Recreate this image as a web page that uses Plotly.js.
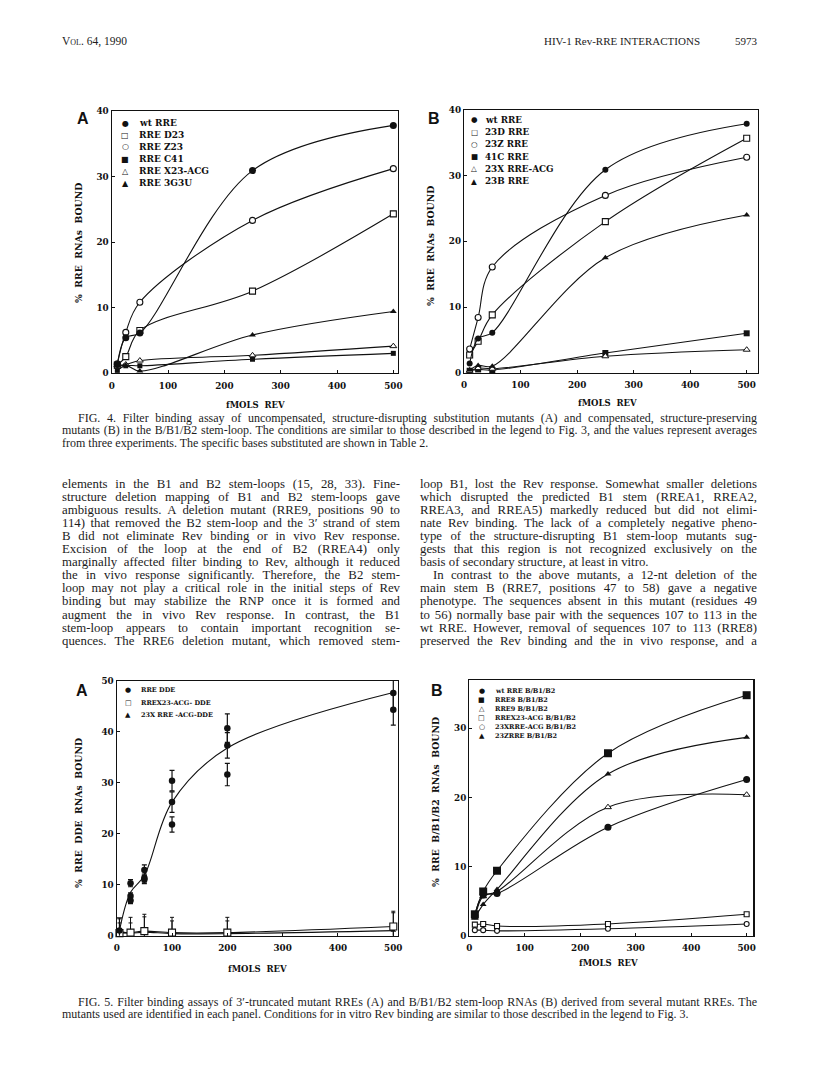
<!DOCTYPE html>
<html>
<head>
<meta charset="utf-8">
<script src="https://cdn.plot.ly/plotly-3.0.1.min.js"></script>
<style>
body{margin:0;background:#fff}
#page{position:relative;width:816px;height:1077px;overflow:hidden;background:#fff}
#chart{position:absolute;left:0;top:0;width:816px;height:1077px}
.t{position:absolute;font-family:'Liberation Serif',serif;color:#1c1c1c;white-space:nowrap;line-height:13px;height:13px;transform-origin:0 50%}
.j{text-align:justify;text-align-last:justify}
</style>
</head>
<body>
<div id="page"><div id="chart"></div></div>
<script>
// ---------------- DATA ----------------
// Fig. 4 (both panels share the Rev doses)
const revDose4 = [10, 25, 50, 250, 500];
// Fig. 4A
const wtRRE_A    = [1.3, 5.4, 6.1, 30.9, 37.8];
const rreD23_A   = [1.2, 2.5, 6.5, 12.5, 24.3];
const rreZ23_A   = [1.4, 6.2, 10.8, 23.3, 31.2];
const rreC41_A   = [0.4, 1.1, 1.1, 2.1, 3.0];
const rreX23acg_A= [1.2, 1.3, 1.9, 2.7, 4.1];
const rre3G3U_A  = [0.9, 1.2, 0.3, 5.8, 9.4];
const legend4A = ["wt RRE", "RRE D23", "RRE Z23", "RRE C41", "RRE X23-ACG", "RRE 3G3U"];
// Fig. 4B
const wtRRE_B    = [1.4, 5.2, 6.1, 30.9, 37.9];
const rre23D_B   = [2.7, 4.8, 8.8, 23.0, 35.7];
const rre23Z_B   = [3.6, 8.4, 16.1, 27.0, 32.8];
const rre41C_B   = [0.3, 0.5, 0.4, 3.0, 6.0];
const rre23Xacg_B= [0.3, 0.7, 0.6, 2.5, 3.5];
const rre23B_B   = [0.4, 1.1, 1.0, 17.5, 24.0];
const legend4B = ["wt RRE", "23D RRE", "23Z RRE", "41C RRE", "23X RRE-ACG", "23B RRE"];

// Fig. 5A (replicate points with error bars + fitted curve)
const ddeDose   = [5, 25, 25, 25, 50, 50, 50, 100, 100, 100, 200, 200, 200, 500, 500];
const ddeBound  = [1.0, 10.3, 7.8, 6.9, 12.9, 11.3, 11.0, 30.4, 26.2, 21.8, 40.7, 37.3, 31.6, 47.6, 44.3];
const ddeErr    = [2.5, 0.7, 0.6, 0.6, 1.0, 0.8, 0.8, 2.0, 2.0, 1.5, 2.8, 2.5, 2.2, 3.0, 3.0];
const ddeFitDose = [5, 25, 50, 100, 200, 500];
const ddeFit     = [1.0, 8.5, 11.8, 26.2, 36.8, 47.7];
const mutDose5A  = [5, 25, 50, 100, 200, 500];
const x23acgDDE  = [0.5, 0.6, 0.9, 0.6, 0.6, 1.8];
const x23acgErr  = [2.0, 3.0, 3.3, 3.0, 3.0, 3.0];
const x23rreDDE  = [0.8, 0.5, 0.7, 0.4, 0.4, 1.0];
const x23rreErr  = [2.5, 2.0, 3.0, 2.5, 2.5, 3.5];
const legend5A = ["RRE DDE", "RREX23-ACG- DDE", "23X RRE -ACG-DDE"];

// Fig. 5B
const revDose5B = [10, 25, 50, 250, 500];
const wtB1B2      = [2.9, 5.9, 6.1, 15.7, 22.6];
const rre8B1B2    = [3.1, 6.4, 9.4, 26.4, 34.8];
const rre9B1B2    = [2.6, 5.7, 6.4, 18.6, 20.4];
const x23acgB1B2  = [1.6, 1.7, 1.4, 1.7, 3.1];
const x23rreB1B2  = [0.8, 0.8, 0.7, 1.0, 1.7];
const z23rreB1B2  = [2.6, 4.5, 6.7, 23.4, 28.7];
const legend5B = ["wt RRE B/B1/B2", "RRE8 B/B1/B2", "RRE9 B/B1/B2", "RREX23-ACG B/B1/B2", "23XRRE-ACG B/B1/B2", "23ZRRE B/B1/B2"];

const xTicks = [0, 100, 200, 300, 400, 500];
const yTicks4 = [0, 10, 20, 30, 40];
const yTicks5A = [0, 10, 20, 30, 40, 50];
const yTicks5B = [0, 10, 20, 30];

// ---------------- PAGE TEXT ----------------
const headerTitle = "HIV-1 Rev-RRE INTERACTIONS";
const headerPage = "5973";
const caption4 = [
 "FIG. 4. Filter binding assay of uncompensated, structure-disrupting substitution mutants (A) and compensated, structure-preserving",
 "mutants (B) in the B/B1/B2 stem-loop. The conditions are similar to those described in the legend to Fig. 3, and the values represent averages",
 "from three experiments. The specific bases substituted are shown in Table 2."];
const bodyLeft = [
 "elements in the B1 and B2 stem-loops (15, 28, 33). Fine-",
 "structure deletion mapping of B1 and B2 stem-loops gave",
 "ambiguous results. A deletion mutant (RRE9, positions 90 to",
 "114) that removed the B2 stem-loop and the 3\u2032 strand of stem",
 "B did not eliminate Rev binding or in vivo Rev response.",
 "Excision of the loop at the end of B2 (RREA4) only",
 "marginally affected filter binding to Rev, although it reduced",
 "the in vivo response significantly. Therefore, the B2 stem-",
 "loop may not play a critical role in the initial steps of Rev",
 "binding but may stabilize the RNP once it is formed and",
 "augment the in vivo Rev response. In contrast, the B1",
 "stem-loop appears to contain important recognition se-",
 "quences. The RRE6 deletion mutant, which removed stem-"];
const bodyRight = [
 "loop B1, lost the Rev response. Somewhat smaller deletions",
 "which disrupted the predicted B1 stem (RREA1, RREA2,",
 "RREA3, and RREA5) markedly reduced but did not elimi-",
 "nate Rev binding. The lack of a completely negative pheno-",
 "type of the structure-disrupting B1 stem-loop mutants sug-",
 "gests that this region is not recognized exclusively on the",
 "basis of secondary structure, at least in vitro.",
 "In contrast to the above mutants, a 12-nt deletion of the",
 "main stem B (RRE7, positions 47 to 58) gave a negative",
 "phenotype. The sequences absent in this mutant (residues 49",
 "to 56) normally base pair with the sequences 107 to 113 in the",
 "wt RRE. However, removal of sequences 107 to 113 (RRE8)",
 "preserved the Rev binding and the in vivo response, and a"];
const caption5 = [
 "FIG. 5. Filter binding assays of 3\u2032-truncated mutant RREs (A) and B/B1/B2 stem-loop RNAs (B) derived from several mutant RREs. The",
 "mutants used are identified in each panel. Conditions for in vitro Rev binding are similar to those described in the legend to Fig. 3."];

// ---------------- BUILD TEXT ----------------
const page = document.getElementById('page');
function addLine(txt, left, cy, width, size, just, extra) {
  const d = document.createElement('div');
  d.className = 't';
  d.style.left = left + 'px';
  d.style.top = (cy - 6.5) + 'px';
  d.style.fontSize = size + 'px';
  if (extra) Object.assign(d.style, extra);
  d.textContent = txt;
  page.appendChild(d);
  if (width) {
    d.style.width = 'auto';
    const nat = d.getBoundingClientRect().width;
    if (nat > width) {
      d.style.transform = 'scaleX(' + (width / nat).toFixed(4) + ')';
    } else {
      d.style.width = width + 'px';
      if (just) d.classList.add('j');
    }
  }
  return d;
}
// header
const hl = addLine('', 62, 41, null, 11.5, false);
hl.innerHTML = '<span style="font-variant:small-caps">Vol.</span> 64, 1990';
addLine(headerTitle, 500, 41, null, 11, false, {width: '200px', textAlign: 'right'});
addLine(headerPage, 717, 41, null, 11, false, {width: '40px', textAlign: 'right'});
// fig 4 caption
caption4.forEach((s, i) => {
  const indent = i === 0 ? 78 : 62;
  addLine(s, indent, 418 + i * 12.6, i < 2 ? 757 - indent : null, 12, i < 2);
});
// body columns
const lh = 13.1;
bodyLeft.forEach((s, i) => {
  addLine(s, 62, 484 + i * lh, 338, 12.8, true);
});
bodyRight.forEach((s, i) => {
  const indent = (i === 7) ? 433 : 420;
  const just = (i !== 6);
  addLine(s, indent, 484 + i * lh, just ? 757 - indent : null, 12.8, just);
});
// fig 5 caption
caption5.forEach((s, i) => {
  const indent = i === 0 ? 78 : 62;
  addLine(s, indent, 1002 + i * 12.4, i === 0 ? 757 - indent : null, 12, i === 0);
});

// ---------------- CHART ----------------
const W = 816, H = 1077;
const PX = v => v / W, PY = v => 1 - v / H;
const INK = '#111';
const tickFont = {family: 'DejaVu Serif', size: 8.8, color: INK, weight: 'bold'};

function axis(extra) {
  return Object.assign({
    showline: true, mirror: true, linecolor: INK, linewidth: 1.2,
    showgrid: false, zeroline: false, ticks: 'inside', ticklen: 3, tickcolor: INK,
    tickfont: tickFont, fixedrange: true, tickmode: 'array'
  }, extra);
}

const sym = {
  fc: {symbol: 'circle', color: INK, size: 7, line: {color: INK, width: 0}},
  oc: {symbol: 'circle', color: '#fff', size: 6, line: {color: INK, width: 1.1}},
  os: {symbol: 'square', color: '#fff', size: 6, line: {color: INK, width: 1.1}},
  fs: {symbol: 'square', color: INK, size: 5, line: {color: INK, width: 0}},
  fsL: {symbol: 'square', color: INK, size: 8, line: {color: INK, width: 0}},
  ot: {symbol: 'triangle-up', color: '#fff', size: 6, line: {color: INK, width: 1}},
  ft: {symbol: 'triangle-up', color: INK, size: 6, line: {color: INK, width: 0}}
};

function curve(x, y, xa, ya, m, extra) {
  return Object.assign({
    type: 'scatter', mode: 'lines+markers', x: x, y: y, xaxis: xa, yaxis: ya,
    line: {color: INK, width: 1.1, shape: 'spline', smoothing: 1},
    marker: m || {size: 1, color: INK}, showlegend: false, hoverinfo: 'x+y', cliponaxis: false
  }, extra || {});
}

const traces = [
  // Fig 4A
  curve(revDose4, rreC41_A, 'x', 'y', sym.fs),
  curve(revDose4, rreX23acg_A, 'x', 'y', sym.ot),
  curve(revDose4, rre3G3U_A, 'x', 'y', sym.ft),
  curve(revDose4, rreD23_A, 'x', 'y', sym.os),
  curve(revDose4, rreZ23_A, 'x', 'y', sym.oc),
  curve(revDose4, wtRRE_A, 'x', 'y', sym.fc),
  // Fig 4B
  curve(revDose4, rre41C_B, 'x2', 'y2', Object.assign({}, sym.fs, {size: 6})),
  curve(revDose4, rre23Xacg_B, 'x2', 'y2', sym.ot),
  curve(revDose4, rre23B_B, 'x2', 'y2', sym.ft),
  curve(revDose4, rre23D_B, 'x2', 'y2', sym.os),
  curve(revDose4, rre23Z_B, 'x2', 'y2', sym.oc),
  curve(revDose4, wtRRE_B, 'x2', 'y2', Object.assign({}, sym.fc, {size: 6})),
  // Fig 5A
  curve(ddeFitDose, ddeFit, 'x3', 'y3', null, {mode: 'lines', hoverinfo: 'skip'}),
  curve(mutDose5A, x23rreDDE, 'x3', 'y3', Object.assign({}, sym.ft, {size: 5}), {
    error_y: {type: 'data', array: x23rreErr, visible: true, color: INK, thickness: 1, width: 2}}),
  curve(mutDose5A, x23acgDDE, 'x3', 'y3', Object.assign({}, sym.os, {size: 7}), {
    error_y: {type: 'data', array: x23acgErr, visible: true, color: INK, thickness: 1, width: 2}}),
  curve(ddeDose, ddeBound, 'x3', 'y3', Object.assign({}, sym.fc, {size: 6.5}), {
    mode: 'markers',
    error_y: {type: 'data', array: ddeErr, visible: true, color: INK, thickness: 1.2, width: 2.5}}),
  // Fig 5B
  curve(revDose5B, x23rreB1B2, 'x4', 'y4', Object.assign({}, sym.oc, {size: 5})),
  curve(revDose5B, x23acgB1B2, 'x4', 'y4', Object.assign({}, sym.os, {size: 5})),
  curve(revDose5B, rre9B1B2, 'x4', 'y4', sym.ot),
  curve(revDose5B, wtB1B2, 'x4', 'y4', sym.fc),
  curve(revDose5B, z23rreB1B2, 'x4', 'y4', sym.ft),
  curve(revDose5B, rre8B1B2, 'x4', 'y4', sym.fsL)
];

// legend helper (text + glyph annotations)
const glyph = {fc: '\u25CF', oc: '\u25CB', os: '\u25A1', fs: '\u25A0', ot: '\u25B3', ft: '\u25B2'};
const annotations = [];
function legend(labels, glyphs, symX, txtX, y0, dy, size, gsize) {
  labels.forEach((lab, i) => {
    const y = y0 + i * dy;
    annotations.push({xref: 'paper', yref: 'paper', x: PX(symX), y: PY(y), xanchor: 'center', yanchor: 'middle',
      text: glyph[glyphs[i]], showarrow: false, font: {family: 'DejaVu Sans', size: gsize, color: INK}});
    annotations.push({xref: 'paper', yref: 'paper', x: PX(txtX), y: PY(y), xanchor: 'left', yanchor: 'middle',
      text: lab, showarrow: false, font: {family: 'DejaVu Serif', size: size, color: INK, weight: 'bold'}});
  });
}
legend(legend4A, ['fc', 'os', 'oc', 'fs', 'ot', 'ft'], 125, 137, 123, 12, 9, 8);
legend(legend4B, ['fc', 'os', 'oc', 'fs', 'ot', 'ft'], 474, 483, 120, 12.2, 8.8, 7.5);
legend(legend5A, ['fc', 'os', 'ft'], 128, 139, 690, 12.6, 6.5, 7);
legend(legend5B, ['fc', 'fs', 'ot', 'os', 'oc', 'ft'], 481.7, 492.5, 690.7, 9, 6.5, 7);

function label(txt, x, y, size, angle, fam, weight) {
  annotations.push({xref: 'paper', yref: 'paper', x: PX(x), y: PY(y), xanchor: 'center', yanchor: 'middle',
    text: txt, showarrow: false, textangle: angle || 0,
    font: {family: fam || 'DejaVu Serif', size: size, color: INK, weight: weight || 'bold'}});
}
const sp = '\u00a0\u00a0';
// panel letters
label('A', 83, 118, 16, 0, 'Liberation Sans');
label('B', 434, 118, 16, 0, 'Liberation Sans');
label('A', 82, 690, 16, 0, 'Liberation Sans');
label('B', 437, 690, 16, 0, 'Liberation Sans');
// axis titles
label('%' + sp + 'RRE' + sp + 'RNAs' + sp + 'BOUND', 78, 243, 9.3, -90);
label('%' + sp + 'RRE' + sp + 'RNAs' + sp + 'BOUND', 430, 246, 9.3, -90);
label('%' + sp + 'RRE' + sp + 'DDE' + sp + 'RNAs' + sp + 'BOUND', 78, 813, 9.3, -90);
label('%' + sp + 'RRE' + sp + 'B/B1/B2' + sp + 'RNAs' + sp + 'BOUND', 435, 802, 9.3, -90);
label('fMOLS' + sp + 'REV', 255, 405, 8.5);
label('fMOLS' + sp + 'REV', 607, 403, 8.5);
label('fMOLS' + sp + 'REV', 257, 969, 8.5);
label('fMOLS' + sp + 'REV', 608, 963, 8.5);

const layout = {
  width: W, height: H,
  margin: {l: 0, r: 0, t: 0, b: 0},
  paper_bgcolor: 'rgba(0,0,0,0)', plot_bgcolor: 'rgba(0,0,0,0)',
  showlegend: false,
  xaxis:  axis({domain: [PX(111.7), PX(398)], range: [0, 508.3], anchor: 'y', tickvals: xTicks, ticklabelstandoff: 4}),
  yaxis:  axis({domain: [PY(373), PY(111)], range: [0, 40], anchor: 'x', tickvals: yTicks4}),
  xaxis2: axis({domain: [PX(464), PX(758)], range: [0, 520], anchor: 'y2', tickvals: xTicks, ticklabelstandoff: 4}),
  yaxis2: axis({domain: [PY(372.7), PY(110)], range: [0, 40], anchor: 'x2', tickvals: yTicks4}),
  xaxis3: axis({domain: [PX(116.7), PX(398)], range: [0, 508.5], anchor: 'y3', tickvals: xTicks, ticklabelstandoff: 4}),
  yaxis3: axis({domain: [PY(935.7), PY(680.7)], range: [0, 50], anchor: 'x3', tickvals: yTicks5A}),
  xaxis4: axis({domain: [PX(469.3), PX(753.3)], range: [0, 512], anchor: 'y4', tickvals: xTicks, ticklabelstandoff: 4}),
  yaxis4: axis({domain: [PY(935.7), PY(680)], range: [0, 37], anchor: 'x4', tickvals: yTicks5B}),
  annotations: annotations
};

Plotly.newPlot('chart', traces, layout, {staticPlot: true, displayModeBar: false});
</script>
</body>
</html>
